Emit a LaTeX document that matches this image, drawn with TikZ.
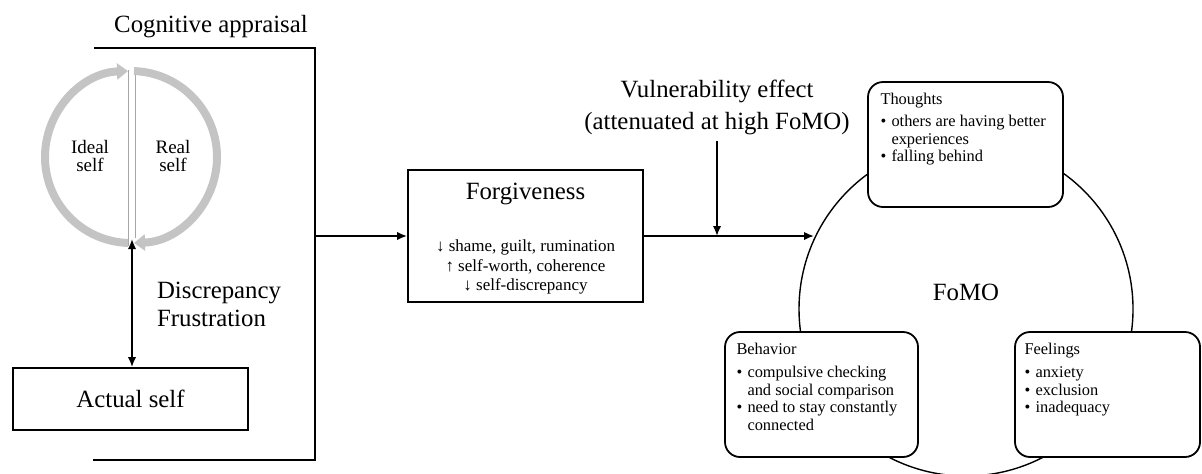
\documentclass[tikz,border=0pt]{standalone}
\usepackage{fontspec}
\setmainfont{Liberation Serif}
\usepackage{tikz}
\usetikzlibrary{arrows.meta,positioning}

\newcommand{\itm}{\makebox[5.5pt][l]{\textbullet}}
\newcommand{\ind}{\hspace*{5.5pt}}

\begin{document}
\begin{tikzpicture}[
  x=0.5pt, y=-0.5pt,
  font=\fontsize{12.4}{14}\selectfont,
  box/.style={draw, line width=0.9pt, minimum width=117.5pt},
  facet/.style={draw, line width=0.9pt, rounded corners=7.5pt, fill=white, minimum height=62.5pt},
  facettext/.style={anchor=north west, inner sep=0pt, align=left, font=\fontsize{8.2}{8.8}\selectfont},
  small/.style={align=center, font=\fontsize{9.5}{9}\selectfont},
  arrow/.style={-{Latex[length=5pt,width=4.2pt]}, line width=0.9pt},
  twoarrow/.style={{Latex[length=5pt,width=4.2pt]}-{Latex[length=5pt,width=4.2pt]}, line width=0.9pt},
  loop/.style={draw=black!23, line width=4pt, -{Triangle[width=8pt,length=5.5pt]}},
  split/.style={draw=black!35, line width=0.5pt}
]
  \useasboundingbox (0,0) rectangle (1202,473);

  \draw[split] (128,70) -- (128,246);
  \draw[split] (135,68) -- (135,238);
  \draw[loop] (131,157) ++(92:86) arc[start angle=92, end angle=268, radius=86];
  \draw[loop] (131,157) ++(-88:86) arc[start angle=-88, end angle=88, radius=86];
  \node[small] (ideal) at (90,156) {Ideal\\self};
  \node[small] (real) at (173,156) {Real\\self};

  \coordinate (loopbottom) at (132,239);
  \node[box, minimum height=31pt] (actual) at (130.5,399) {Actual self};
  \draw[twoarrow] (loopbottom) -- (loopbottom |- actual.north);
  \node[align=left, anchor=west] (discr) at (150,304) {Discrepancy\\Frustration};

  \node (appraisal) at (211,27) {Cognitive appraisal};
  \coordinate (brtop) at (94,48);
  \coordinate (brcorner) at (315,460);
  \coordinate (brbottom) at (93,460);
  \draw[line width=0.9pt] (brtop) -| (brcorner) -- (brbottom);

  \node[box, minimum height=66pt] (forg) at (525.5,236) {};
  \node (forgtitle) at (525.5,194) {Forgiveness};
  \node[align=center, font=\fontsize{8.5}{9.75}\selectfont] (forglist) at (525.5,267) {↓ shame, guilt, rumination\\↑ self-worth, coherence\\↓ self-discrepancy};
  \coordinate (brout) at (brcorner |- forg.west);
  \draw[arrow] (brout) -- (forg.west);

  \node[draw, circle, line width=0.7pt, minimum size=167pt, inner sep=0pt] (fomo) at (966,309) {};
  \node (fomolabel) at (966,292) {FoMO};
  \draw[arrow] (forg.east) -- (forg.east -| fomo.155);

  \node[align=center, font=\fontsize{12.4}{16}\selectfont] (vuln) at (717,107) {Vulnerability effect\\(attenuated at high FoMO)};
  \draw[arrow] (vuln.south) -- (vuln.south |- forg.east);

  \node[facet, minimum width=97.5pt] (thoughts) at (965.5,144.5) {};
  \node[facettext] (thoughtstext) at ([shift={(13,12)}]thoughts.north west) {Thoughts\\[2pt]
    \itm others are having better\\ \ind experiences\\ \itm falling behind};
  \node[facet, minimum width=96.5pt] (behavior) at (821.5,394.5) {};
  \node[facettext] (behaviortext) at ([shift={(12,12)}]behavior.north west) {Behavior\\[2.5pt]
    \itm compulsive checking\\ \ind and social comparison\\ \itm need to stay constantly\\ \ind connected};
  \node[facet, minimum width=92.5pt] (feelings) at (1107.5,394.5) {};
  \node[facettext] (feelingstext) at ([shift={(10,12)}]feelings.north west) {Feelings\\[2.5pt]
    \itm anxiety\\ \itm exclusion\\ \itm inadequacy};
\end{tikzpicture}
\end{document}
